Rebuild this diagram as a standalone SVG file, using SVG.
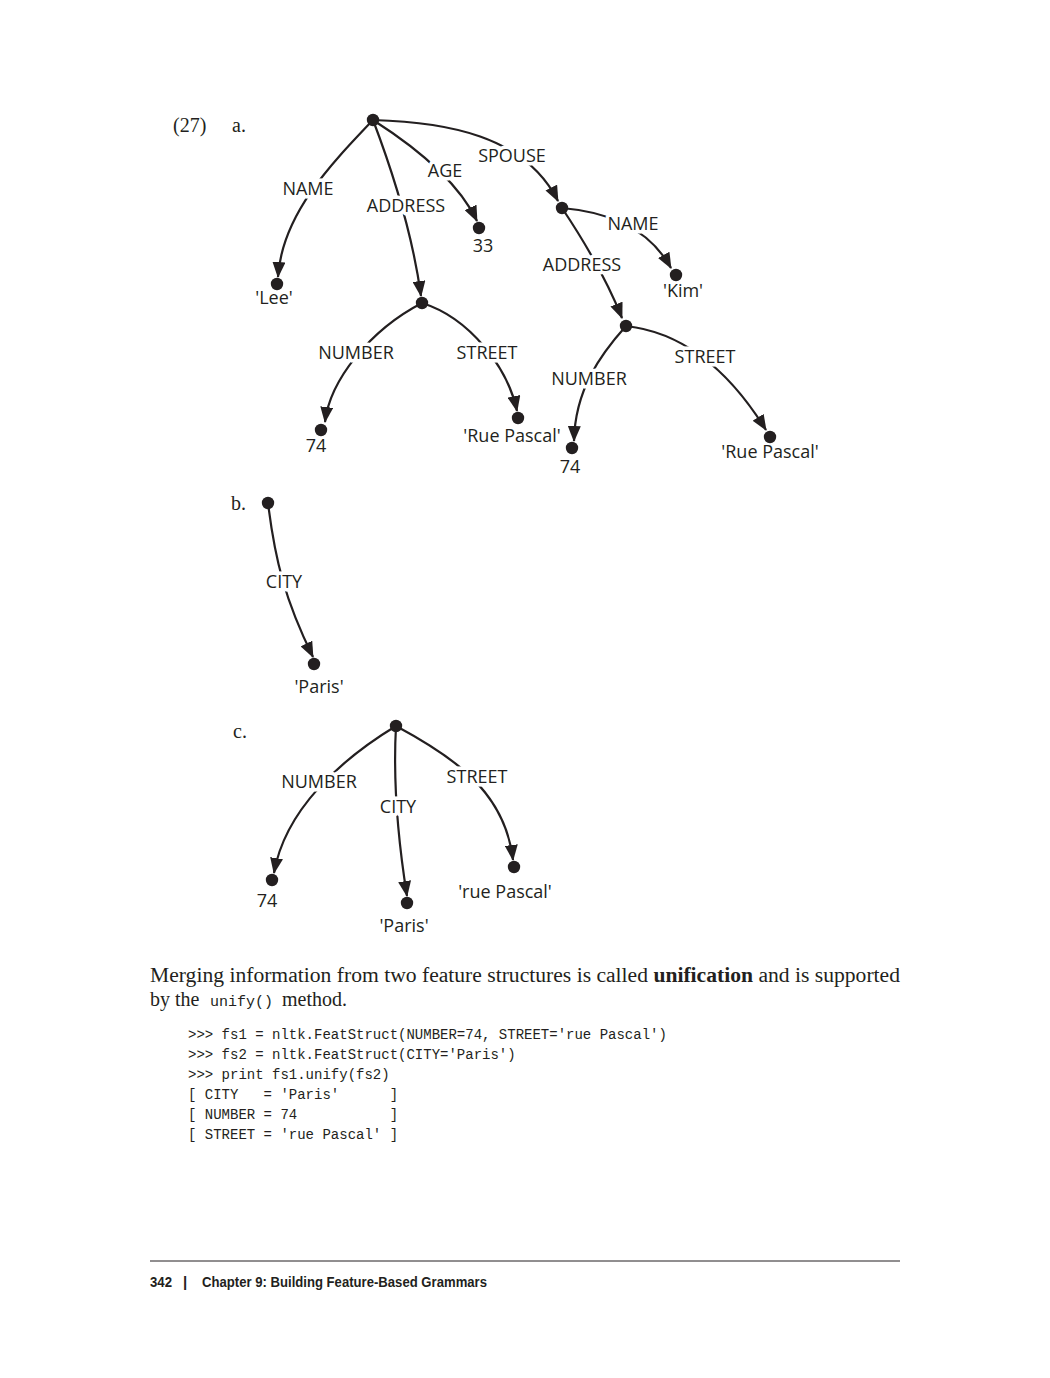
<svg xmlns="http://www.w3.org/2000/svg" width="1050" height="1378" viewBox="0 0 1050 1378">
<style>
.bg{fill:#fff}
.edge{fill:none;stroke:#231f20;stroke-width:2.2;marker-end:url(#ah)}
.dot{fill:#231f20}
.lbl{font-family:"Open Sans","Liberation Sans",sans-serif;font-size:18px;fill:#231f20;text-anchor:middle}
.elbl{font-family:"Open Sans","Liberation Sans",sans-serif;font-size:18px;fill:#231f20;text-anchor:middle;stroke:#fff;stroke-width:7px;stroke-linejoin:round;paint-order:stroke}
.serif{font-family:"Liberation Serif","Times New Roman",serif;font-size:20px;fill:#231f20}
.mono{font-family:"Liberation Mono","DejaVu Sans Mono",monospace;font-size:14px;fill:#231f20;white-space:pre}
.foot{font-family:"Liberation Sans",Arial,sans-serif;font-size:15px;font-weight:bold;fill:#231f20}
</style>
<defs>
<marker id="ah" markerWidth="16" markerHeight="13" refX="15" refY="6.5" orient="auto" markerUnits="userSpaceOnUse">
<path d="M0,0 L16,6.5 L0,13 z" fill="#231f20"/>
</marker>
</defs>
<rect class="bg" x="0" y="0" width="1050" height="1378"/>

<g id="example-labels">
<text class="serif" x="173" y="132">(27)</text>
<text class="serif" x="232" y="132">a.</text>
<text class="serif" x="231" y="510">b.</text>
<text class="serif" x="233" y="738">c.</text>
</g>

<g id="connectors">
<path class="edge" d="M373,120 C330,165 282,215 278,277"/>
<path class="edge" d="M373,120 C392,170 412,230 421,296"/>
<path class="edge" d="M373,120 C420,150 460,185 477,221"/>
<path class="edge" d="M373,120 C445,122 525,135 558,201"/>
<path class="edge" d="M562,208 C610,212 650,230 671,268"/>
<path class="edge" d="M562,208 C580,235 605,275 622,318"/>
<path class="edge" d="M422,303 C370,330 330,380 325,422"/>
<path class="edge" d="M422,303 C470,318 508,368 517,411"/>
<path class="edge" d="M626,326 C600,355 575,390 574,441"/>
<path class="edge" d="M626,326 C690,333 735,380 766,430"/>
<path class="edge" d="M268,503 C275,560 285,600 313,657"/>
<path class="edge" d="M396,726 C340,760 285,810 274,873"/>
<path class="edge" d="M396,726 C393,780 398,840 407,896"/>
<path class="edge" d="M396,726 C450,755 505,790 513,860"/>
</g>

<g id="edge-labels">
<text class="elbl" x="308" y="195">NAME</text>
<text class="elbl" x="406" y="212">ADDRESS</text>
<text class="elbl" x="445" y="177">AGE</text>
<text class="elbl" x="512" y="162">SPOUSE</text>
<text class="elbl" x="633" y="230">NAME</text>
<text class="elbl" x="582" y="271">ADDRESS</text>
<text class="elbl" x="356" y="359">NUMBER</text>
<text class="elbl" x="487" y="359">STREET</text>
<text class="elbl" x="589" y="385">NUMBER</text>
<text class="elbl" x="705" y="363">STREET</text>
<text class="elbl" x="284" y="588">CITY</text>
<text class="elbl" x="319" y="788">NUMBER</text>
<text class="elbl" x="398" y="813">CITY</text>
<text class="elbl" x="477" y="783">STREET</text>
</g>

<g id="a-root"><circle class="dot" cx="373" cy="120" r="6.2"/></g>
<g id="a-lee"><circle class="dot" cx="277" cy="284" r="6.2"/><text class="lbl" x="274" y="304">'Lee'</text></g>
<g id="a-address"><circle class="dot" cx="422" cy="303" r="6.2"/></g>
<g id="a-33"><circle class="dot" cx="479" cy="228" r="6.2"/><text class="lbl" x="483" y="252">33</text></g>
<g id="a-spouse"><circle class="dot" cx="562" cy="208" r="6.2"/></g>
<g id="a-74"><circle class="dot" cx="321" cy="430" r="6.2"/><text class="lbl" x="316" y="452">74</text></g>
<g id="a-ruepascal"><circle class="dot" cx="518" cy="418" r="6.2"/><text class="lbl" x="512" y="442">'Rue Pascal'</text></g>
<g id="a-kim"><circle class="dot" cx="676" cy="275" r="6.2"/><text class="lbl" x="683" y="297">'Kim'</text></g>
<g id="a-spouse-address"><circle class="dot" cx="626" cy="326" r="6.2"/></g>
<g id="a-spouse-74"><circle class="dot" cx="572" cy="448" r="6.2"/><text class="lbl" x="570" y="473">74</text></g>
<g id="a-spouse-ruepascal"><circle class="dot" cx="770" cy="437" r="6.2"/><text class="lbl" x="770" y="458">'Rue Pascal'</text></g>

<g id="b-root"><circle class="dot" cx="268" cy="503" r="6.2"/></g>
<g id="b-paris"><circle class="dot" cx="314" cy="664" r="6.2"/><text class="lbl" x="319" y="693">'Paris'</text></g>

<g id="c-root"><circle class="dot" cx="396" cy="726" r="6.2"/></g>
<g id="c-74"><circle class="dot" cx="272" cy="880" r="6.2"/><text class="lbl" x="267" y="907">74</text></g>
<g id="c-paris"><circle class="dot" cx="407" cy="903" r="6.2"/><text class="lbl" x="404" y="932">'Paris'</text></g>
<g id="c-ruepascal"><circle class="dot" cx="514" cy="867" r="6.2"/><text class="lbl" x="505" y="898">'rue Pascal'</text></g>

<g id="body-text">
<text class="serif" x="150" y="982" textLength="750" lengthAdjust="spacingAndGlyphs">Merging information from two feature structures is called <tspan font-weight="bold">unification</tspan> and is supported</text>
<text class="serif" y="1006"><tspan x="150">by the</tspan><tspan x="210" font-family="Liberation Mono, monospace" font-size="15">unify()</tspan><tspan x="282">method.</tspan></text>
<text class="mono" x="188" y="1039" xml:space="preserve">&gt;&gt;&gt; fs1 = nltk.FeatStruct(NUMBER=74, STREET='rue Pascal')</text>
<text class="mono" x="188" y="1059" xml:space="preserve">&gt;&gt;&gt; fs2 = nltk.FeatStruct(CITY='Paris')</text>
<text class="mono" x="188" y="1079" xml:space="preserve">&gt;&gt;&gt; print fs1.unify(fs2)</text>
<text class="mono" x="188" y="1099" xml:space="preserve">[ CITY   = 'Paris'      ]</text>
<text class="mono" x="188" y="1119" xml:space="preserve">[ NUMBER = 74           ]</text>
<text class="mono" x="188" y="1139" xml:space="preserve">[ STREET = 'rue Pascal' ]</text>
</g>

<g id="footer">
<line x1="150" y1="1261" x2="900" y2="1261" stroke="#231f20" stroke-width="1"/>
<text class="foot" x="150" y="1287" textLength="22" lengthAdjust="spacingAndGlyphs">342</text>
<text class="foot" x="183" y="1287" font-weight="normal">|</text>
<text class="foot" x="202" y="1287" textLength="285" lengthAdjust="spacingAndGlyphs">Chapter 9:  Building Feature-Based Grammars</text>
</g>
</svg>
